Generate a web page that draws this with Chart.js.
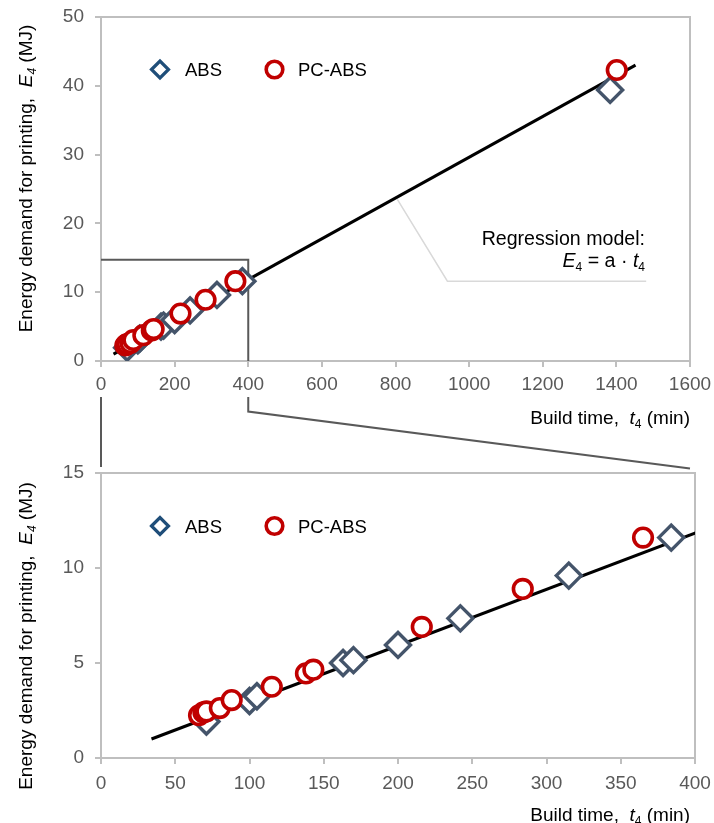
<!DOCTYPE html>
<html>
<head>
<meta charset="utf-8">
<script src="https://cdn.jsdelivr.net/npm/chart.js@4.4.1/dist/chart.umd.min.js"></script>
<style>
  html, body { margin: 0; padding: 0; background: #fff; }
  #wrap { position: relative; width: 714px; height: 823px; }
  canvas { position: absolute; left: 0; }
  #top { top: 0; }
  #bot { top: 440px; }
</style>
</head>
<body>
<div id="wrap">
  <canvas id="top" width="714" height="470"></canvas>
  <canvas id="bot" width="714" height="383"></canvas>
</div>
<script>
// Datos: tiempo de impresión t4 (min) y energía E4 (MJ)
const absT = [71, 100, 105, 163, 170, 200, 242, 315, 384, 1383];
const absE = [1.92, 3.0, 3.25, 5.0, 5.15, 5.95, 7.35, 9.6, 11.6, 39.4];
const pcT = [66, 69, 71, 80, 88, 115, 138, 143, 216, 284, 365, 1401];
const pcE = [2.25, 2.4, 2.45, 2.63, 3.05, 3.75, 4.45, 4.65, 6.9, 8.9, 11.6, 42.3];
// Recta de regresión E4 = a · t4 (extremos)
const regT = [34, 1452];
const regE = [1.0, 43.0];

const topXTicks = [0, 200, 400, 600, 800, 1000, 1200, 1400, 1600];
const topYTicks = [0, 10, 20, 30, 40, 50];
const botXTicks = [0, 50, 100, 150, 200, 250, 300, 350, 400];
const botYTicks = [0, 5, 10, 15];

const FONT = '"Liberation Sans", Arial, sans-serif';
const AXIS = '#BFBFBF';
const FS = 19;
const pts = (xs, ys) => xs.map((x, i) => ({ x, y: ys[i] }));

Chart.defaults.font.family = FONT;
Chart.defaults.font.size = FS;

/** Texto con trozos en cursiva y subíndices: [[texto, 'i'|'s'|'']] */
function drawRich(ctx, parts, x, y, align, size) {
  const fontFor = (st) =>
    (st.includes('i') ? 'italic ' : '') +
    (st.includes('s') ? Math.round(size * 0.62) : size) + 'px ' + FONT;
  let total = 0;
  const widths = parts.map(([t, st]) => {
    ctx.font = fontFor(st);
    const w = ctx.measureText(t).width;
    total += w;
    return w;
  });
  let cx = align === 'right' ? x - total : align === 'center' ? x - total / 2 : x;
  ctx.textAlign = 'left';
  ctx.textBaseline = 'alphabetic';
  parts.forEach(([t, st], i) => {
    ctx.font = fontFor(st);
    ctx.fillText(t, cx, y + (st.includes('s') ? size * 0.22 : 0));
    cx += widths[i];
  });
}

function legend(ctx, y) {
  ctx.save();
  ctx.lineWidth = 3.2;
  ctx.fillStyle = '#fff';
  ctx.strokeStyle = '#1F4E79';
  const r = 8.5;
  ctx.beginPath();
  ctx.moveTo(160 - r, y); ctx.lineTo(160, y - r); ctx.lineTo(160 + r, y); ctx.lineTo(160, y + r);
  ctx.closePath(); ctx.fill(); ctx.stroke();
  ctx.strokeStyle = '#C00000';
  ctx.lineWidth = 3.6;
  ctx.beginPath(); ctx.arc(274.5, y, 8.3, 0, Math.PI * 2); ctx.fill(); ctx.stroke();
  ctx.fillStyle = '#000';
  drawRich(ctx, [['ABS', '']], 185, y + 6.7, 'left', 18.5);
  drawRich(ctx, [['PC-ABS', '']], 298, y + 6.7, 'left', 18.5);
  ctx.restore();
}

function frame(chart) {
  const { ctx, chartArea: a } = chart;
  ctx.save();
  ctx.strokeStyle = AXIS;
  ctx.lineWidth = 2;
  ctx.strokeRect(a.left, a.top, a.right - a.left, a.bottom - a.top);
  ctx.restore();
}

const yTitle = [['Energy demand for printing,  ', ''], ['E', 'i'], ['4', 'is'], [' (MJ)', '']];
const xTitle = [['Build time,  ', ''], ['t', 'i'], ['4', 's'], [' (min)', '']];

const deco = {
  id: 'deco',
  beforeDatasetsDraw(chart, args, opts) {
    frame(chart);
    if (opts.before) opts.before(chart);
  },
  afterDraw(chart, args, opts) {
    if (opts.after) opts.after(chart);
  },
};

function datasets() {
  return [
    {
      label: 'PC-ABS', data: pts(pcT, pcE), order: 1,
      pointStyle: 'circle', pointRadius: 9.3, borderWidth: 3.6,
      borderColor: '#C00000', backgroundColor: '#fff',
    },
    {
      label: 'ABS', data: pts(absT, absE), order: 2,
      pointStyle: 'rectRot', pointRadius: 12.5, borderWidth: 3.4,
      borderColor: '#44546A', backgroundColor: '#fff',
    },
    {
      label: 'Regresión', data: pts(regT, regE), order: 3, showLine: true,
      pointRadius: 0, borderColor: '#000', borderWidth: 3, backgroundColor: '#000',
    },
  ];
}

function axis(min, max, ticks, size, pad) {
  return {
    type: 'linear', min, max,
    afterBuildTicks: (s) => { s.ticks = ticks.map((v) => ({ value: v })); },
    // tamaño fijo y sin margen extra por etiquetas desbordadas
    afterFit: (s) => {
      if (s.isHorizontal()) { s.height = size; s.paddingLeft = 0; s.paddingRight = 0; }
      else { s.width = size; s.paddingTop = 0; s.paddingBottom = 0; }
    },
    ticks: {
      color: '#595959', padding: pad, font: { size: FS }, maxRotation: 0, autoSkip: false,
      callback: (v) => String(v),
    },
    grid: { drawOnChartArea: false, drawTicks: true, tickLength: 6, color: AXIS, lineWidth: 2 },
    border: { display: true, color: AXIS, width: 2 },
  };
}

function base(padding, xs, ys, extra) {
  return {
    type: 'scatter',
    data: { datasets: datasets() },
    options: {
      responsive: false,
      animation: false,
      devicePixelRatio: 1,
      events: [],
      layout: { padding },
      scales: { x: xs, y: ys },
      plugins: { legend: { display: false }, tooltip: { enabled: false }, deco: extra },
    },
    plugins: [deco],
  };
}

// Gráfico superior: rango completo
new Chart(document.getElementById('top'), base(
  { top: 17, right: 24, left: 0, bottom: 0 },
  axis(0, 1600, topXTicks, 109, 6),
  axis(0, 50, topYTicks, 101, 11),
  {
    before(chart) {
      const { ctx, scales: { x, y } } = chart;
      ctx.save();
      // recuadro de la zona ampliada
      ctx.strokeStyle = '#595959';
      ctx.lineWidth = 2;
      ctx.beginPath();
      ctx.moveTo(x.getPixelForValue(0), y.getPixelForValue(14.7));
      ctx.lineTo(x.getPixelForValue(400), y.getPixelForValue(14.7));
      ctx.lineTo(x.getPixelForValue(400), y.getPixelForValue(0));
      ctx.stroke();
      // línea de llamada de la regresión
      ctx.strokeStyle = '#D9D9D9';
      ctx.lineWidth = 1.5;
      ctx.beginPath();
      ctx.moveTo(x.getPixelForValue(805), y.getPixelForValue(23.5));
      ctx.lineTo(x.getPixelForValue(941), y.getPixelForValue(11.6));
      ctx.lineTo(x.getPixelForValue(1481), y.getPixelForValue(11.6));
      ctx.stroke();
      ctx.restore();
    },
    after(chart) {
      const { ctx, scales: { x } } = chart;
      ctx.save();
      ctx.fillStyle = '#000';
      drawRich(ctx, [['Regression model:', '']], 645, 245, 'right', 19.6);
      drawRich(ctx, [['E', 'i'], ['4', 's'], [' = a · ', ''], ['t', 'i'], ['4', 's']], 645, 266.5, 'right', 19.6);
      drawRich(ctx, xTitle, 690, 424, 'right', FS);
      ctx.translate(32, 178.5);
      ctx.rotate(-Math.PI / 2);
      drawRich(ctx, yTitle, 0, 0, 'center', FS);
      ctx.restore();
      legend(ctx, 69.5);
      // conectores hacia el gráfico ampliado
      ctx.save();
      ctx.strokeStyle = '#595959';
      ctx.lineWidth = 2;
      ctx.beginPath();
      ctx.moveTo(x.getPixelForValue(0), 397);
      ctx.lineTo(x.getPixelForValue(0), 467);
      ctx.moveTo(x.getPixelForValue(400), 397);
      ctx.lineTo(x.getPixelForValue(400), 411.5);
      ctx.lineTo(x.getPixelForValue(1600), 468.5);
      ctx.stroke();
      ctx.restore();
    },
  }
));

// Gráfico inferior: detalle 0–400 min
new Chart(document.getElementById('bot'), base(
  { top: 33, right: 19, left: 0, bottom: 0 },
  axis(0, 400, botXTicks, 65, 8),
  axis(0, 15, botYTicks, 101, 11),
  {
    after(chart) {
      const { ctx } = chart;
      ctx.save();
      ctx.fillStyle = '#000';
      drawRich(ctx, xTitle, 690, 381, 'right', FS);
      ctx.translate(32, 196);
      ctx.rotate(-Math.PI / 2);
      drawRich(ctx, yTitle, 0, 0, 'center', FS);
      ctx.restore();
      legend(ctx, 86);
    },
  }
));
</script>
</body>
</html>
